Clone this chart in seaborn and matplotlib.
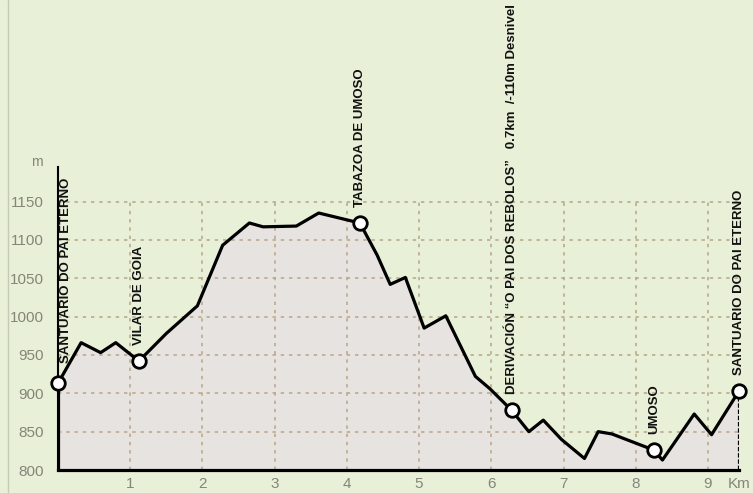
import matplotlib
matplotlib.use("Agg")
import matplotlib.pyplot as plt
import seaborn as sns
import pandas as pd
from matplotlib.lines import Line2D

# ---- data ----
km = [0.00, 0.32, 0.59, 0.80, 1.12, 1.50, 1.93, 2.28, 2.65, 2.84, 3.30, 3.61,
      4.18, 4.42, 4.60, 4.81, 5.07, 5.37, 5.78, 5.98, 6.28, 6.52, 6.72, 6.97,
      7.29, 7.48, 7.67, 8.25, 8.37, 8.81, 9.05, 9.43]
elev = [913, 966, 953, 966, 942, 978, 1014, 1093, 1122, 1117, 1118, 1135,
        1122, 1080, 1042, 1051, 985, 1001, 922, 906, 878, 850, 865, 840,
        815, 850, 847, 826, 813, 873, 846, 903]

wp_km = [0.00, 1.12, 4.18, 6.28, 8.25, 9.43]
wp_elev = [913, 942, 1122, 878, 826, 903]
wp_names = ["SANTUARIO DO PAI ETERNO",
            "VILAR DE GOIA",
            "TABAZOA DE UMOSO",
            "DERIVACIÓN \u201cO PAI DOS REBOLOS\u201d   0.7km  /-110m Desnivel",
            "UMOSO",
            "SANTUARIO DO PAI ETERNO"]

y_ticks = [800, 850, 900, 950, 1000, 1050, 1100, 1150]
x_ticks = [1, 2, 3, 4, 5, 6, 7, 8, 9]
x_ticklabels = ["1", "2", "3", "4", "5", "6", "7", "8", "9"]
x_unit = "Km"
y_unit = "m"

# ---- styling ----
BG = "#E8F0D8"
FILL = "#E7E3E0"
GRID = "#B7A585"
TXT = "#858578"

sns.set_style("white")
plt.rcParams["font.family"] = ["Liberation Sans", "DejaVu Sans"]

fig = plt.figure(figsize=(7.53, 4.93), dpi=100, facecolor=BG)
W, H = 753, 493
x0, x1 = 58, 739
yb, yt = 470, 167
ax = fig.add_axes([x0 / W, (H - yb) / H, (x1 - x0) / W, (yb - yt) / H])
ax.set_facecolor(BG)

ymin, ymax = y_ticks[0], 1195
xend = km[-1]
ax.set_xlim(0, xend)
ax.set_ylim(ymin, ymax)

df = pd.DataFrame({"km": km, "elev": elev})
ax.fill_between(df["km"], df["elev"], ymin, color=FILL, lw=0, zorder=1)

# grid
ax.hlines(y_ticks[1:], 0, xend, colors=GRID, lw=1.1, linestyles=(0, (2.2, 3.2)), zorder=2)
ax.vlines(x_ticks, ymin, y_ticks[-1], colors=GRID, lw=1.1, linestyles=(0, (2.2, 3.2)), zorder=2)

# profile
sns.lineplot(data=df, x="km", y="elev", ax=ax, color="black", lw=2.3,
             sort=False, estimator=None, zorder=4)
ax.vlines(0, ymin, elev[0], colors="black", lw=2.3, zorder=4)
ax.vlines(xend, ymin, elev[-1], colors="black", lw=1.6, linestyles=(0, (2, 0.8)), zorder=4)

# waypoints
wdf = pd.DataFrame({"km": wp_km, "elev": wp_elev})
sns.scatterplot(data=wdf, x="km", y="elev", ax=ax, s=95, color="white",
                edgecolor="black", linewidth=2.0, zorder=6, clip_on=False)

for i, (xk, ye, name) in enumerate(zip(wp_km, wp_elev, wp_names)):
    dx, dy = (6.0, 14.5) if i == 0 else (0.0, 11.5)
    ax.annotate(name, xy=(xk, ye), xytext=(dx, dy), textcoords="offset points",
                rotation=90, ha="center", va="bottom", fontsize=9.5,
                fontweight="bold", color="#111111", annotation_clip=False,
                zorder=7)

# spines / ticks
for s in ["top", "right"]:
    ax.spines[s].set_visible(False)
ax.spines["bottom"].set_linewidth(2.3)
ax.spines["bottom"].set_color("black")
ax.spines["left"].set_linewidth(1.5)
ax.spines["left"].set_color("black")
ax.spines["bottom"].set_zorder(5)

ax.set_yticks(y_ticks)
ax.set_yticklabels([str(v) for v in y_ticks])
ax.set_xticks(x_ticks + [xend])
ax.set_xticklabels(x_ticklabels + [x_unit])
ax.tick_params(axis="y", length=0, pad=10, labelsize=11, labelcolor=TXT)
ax.tick_params(axis="x", length=0, pad=5, labelsize=11, labelcolor=TXT)
ax.set_xlabel("")
ax.set_ylabel("")

ax.annotate(y_unit, xy=(0, 1201), xycoords="data", xytext=(-15, 0),
            textcoords="offset points", ha="center", va="center",
            fontsize=10, color=TXT, annotation_clip=False)

# faint left frame line
fig.add_artist(Line2D([8 / W, 8 / W], [0, 1], color="#C6CBB6", lw=1.0))

fig.savefig("out.png", dpi=100, facecolor=BG)
